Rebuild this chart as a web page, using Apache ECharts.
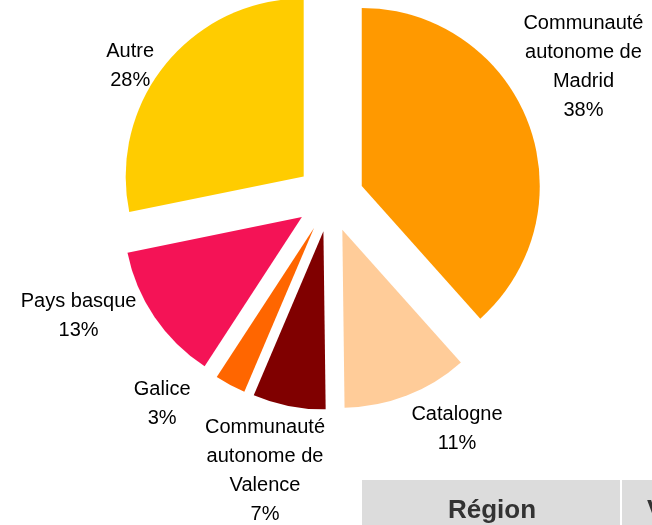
<!DOCTYPE html>
<html>
<head>
<meta charset="utf-8">
<title>Répartition par région</title>
<script src="https://cdn.jsdelivr.net/npm/echarts@6/dist/echarts.min.js"></script>
<style>
  html, body { margin: 0; padding: 0; background: #fff; }
  #chart { width: 652px; height: 525px; }
</style>
</head>
<body>
<div id="chart"></div>
<script>
// données
const regions = [
  'Communauté\nautonome de\nMadrid',
  'Catalogne',
  'Communauté\nautonome de\nValence',
  'Galice',
  'Pays basque',
  'Autre'
];
const parts = [38.4, 11.4, 6.6, 2.8, 12.6, 28.2];
const couleurs = ['#FF9900', '#FFCC99', '#800000', '#FF6600', '#F41356', '#FFCC00'];

// petits décalages des étiquettes (placement façon Excel)
const decalages = {
  'Communauté\nautonome de\nMadrid': [-19, -52],
  'Catalogne': [-4, 24],
  'Communauté\nautonome de\nValence': [43, 55],
  'Galice': [-30, 10],
  'Pays basque': [-5, -7],
  'Autre': [1, 8]
};

const police = '"Liberation Sans", Arial, sans-serif';

const myChart = echarts.init(document.getElementById('chart'));

var option = {
  animation: false,
  backgroundColor: '#fff',
  series: [{
    type: 'pie',
    center: [330, 198],
    radius: 178,
    startAngle: 90,
    clockwise: true,
    selectedMode: 'multiple',
    selectedOffset: 34,
    avoidLabelOverlap: false,
    silent: true,
    label: {
      show: true,
      position: 'outside',
      formatter: function (p) {
        const lignes = p.name.split('\n');
        lignes.push(Math.round(p.percent) + '%');
        return lignes.map(l => '{c|' + l + '}').join('\n');
      },
      rich: {
        c: {
          align: 'center',
          fontSize: 20,
          lineHeight: 29,
          fontFamily: police,
          color: '#000'
        }
      }
    },
    labelLine: { show: false, length: 10, length2: 0 },
    labelLayout: function (params) {
      const d = decalages[regions[params.dataIndex]] || [0, 0];
      return { dx: d[0], dy: d[1] };
    },
    select: {
      itemStyle: { borderWidth: 0 },
      label: { show: true }
    },
    data: regions.map((r, i) => ({
      name: r,
      value: parts[i],
      selected: true,
      itemStyle: { color: couleurs[i] }
    }))
  }],
  graphic: [
    { type: 'rect', shape: { x: 362, y: 480, width: 300, height: 60 }, style: { fill: '#DCDCDC' } },
    { type: 'rect', shape: { x: 620, y: 480, width: 2, height: 60 }, style: { fill: '#fff' } },
    { type: 'text', style: { text: 'Région', x: 492, y: 511, align: 'center', verticalAlign: 'middle', font: 'bold 26px ' + police, fill: '#333' } },
    { type: 'text', style: { text: 'Valeur', x: 647, y: 511, align: 'left', verticalAlign: 'middle', font: 'bold 26px ' + police, fill: '#333' } }
  ]
};

myChart.setOption(option);
</script>
</body>
</html>
